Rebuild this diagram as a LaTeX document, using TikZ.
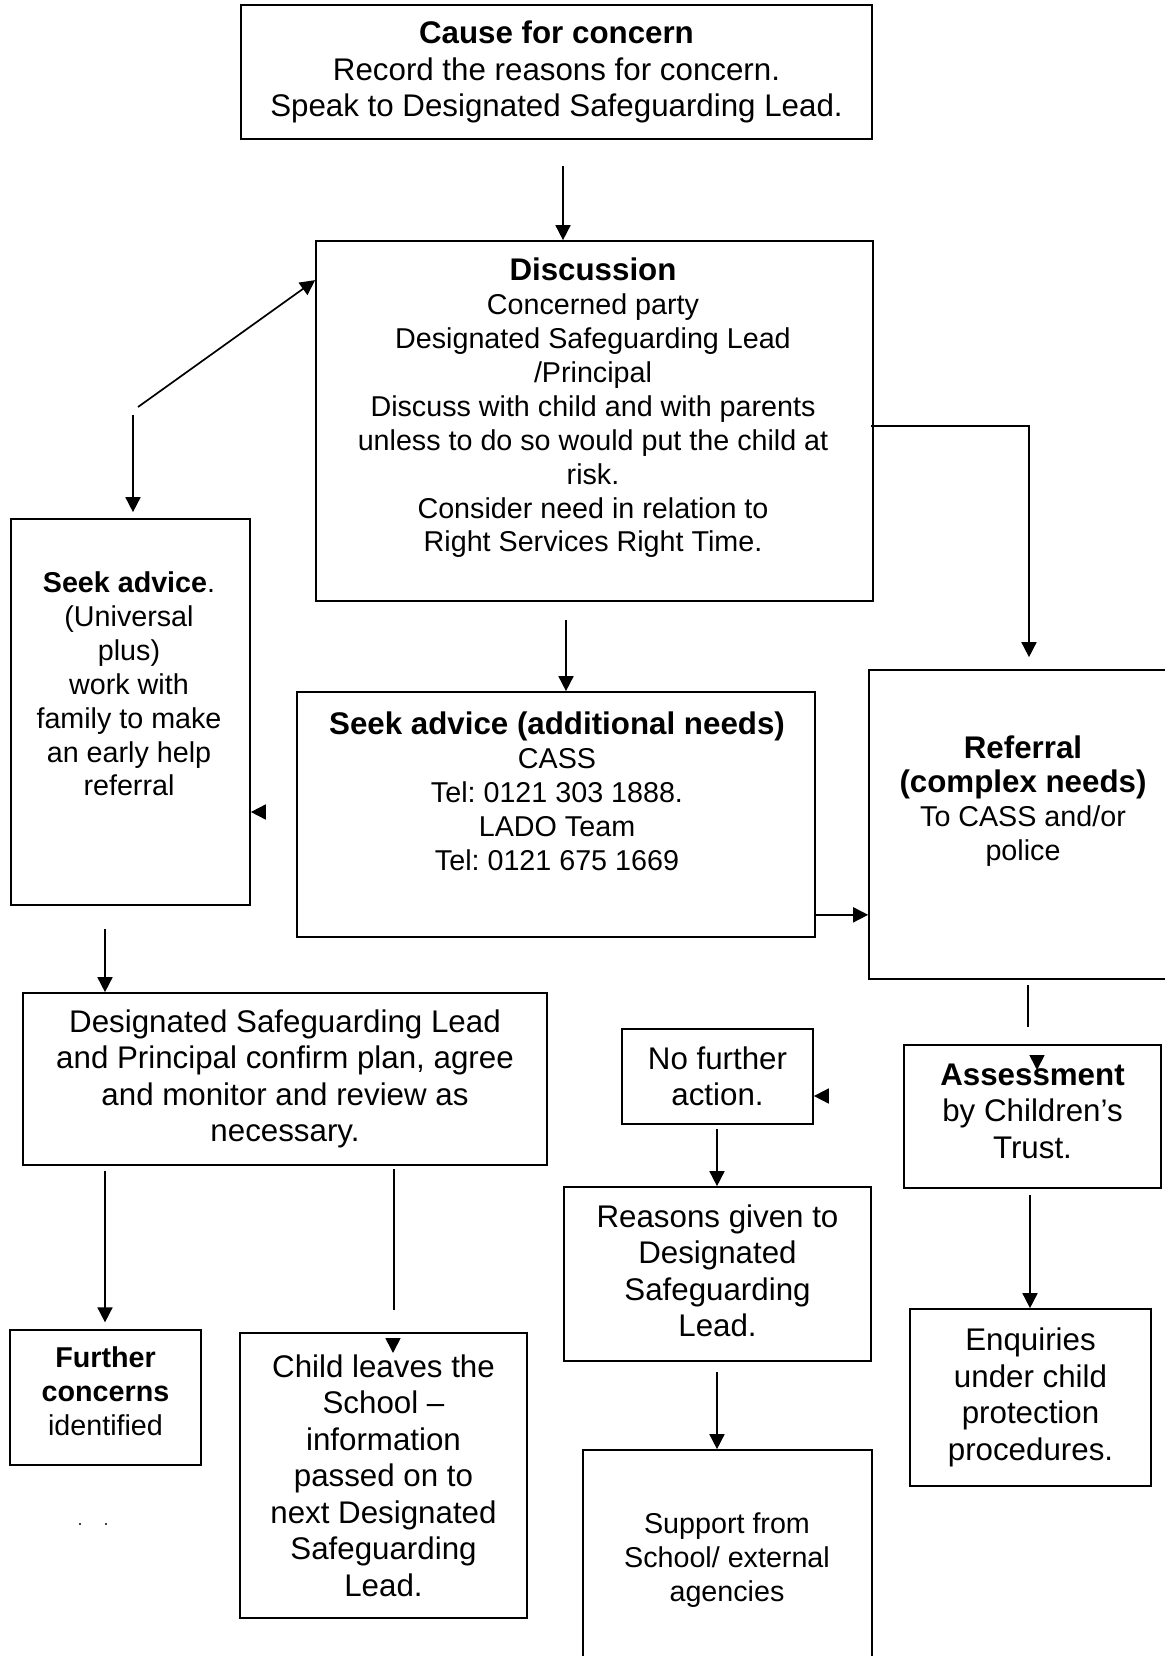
\documentclass[tikz,border=0pt]{standalone}
\usepackage{fontspec}
\setmainfont{Liberation Sans}
\usepackage{tikz}
\usetikzlibrary{arrows.meta}
\usetikzlibrary{calc}
\frenchspacing
\newcommand{\pxu}{0.3834pt}
\newcommand{\boxhead}[1]{{\fontsize{12}{14}\selectfont\bfseries #1}}
\tikzset{%
  flowbox/.style={
    draw,
    rectangle,
    line width=0.65pt,
    inner sep=0pt,
    align=center,
    font=\fontsize{12}{14}\selectfont
  },
  boxtext/.style={
    inner sep=0pt,
    align=center,
    font=\fontsize{12}{14}\selectfont
  },
  smalltext/.style={
    inner sep=0pt,
    align=center,
    font=\fontsize{11}{13}\selectfont
  },
  arrow/.style={
    -{Triangle[length=5.75pt,width=5.75pt]},
    line width=0.65pt
  },
}

\begin{document}
\begin{tikzpicture}[x=\pxu,y=-\pxu]
  \useasboundingbox (0,0) rectangle (1165,1656);

  \node (cause) [flowbox, minimum width=631*\pxu, minimum height=134*\pxu] at (556.5,72)
  {\textbf{Cause for concern}\\Record the reasons for concern.\\Speak to Designated Safeguarding Lead.};

  \node (disc) [flowbox, minimum width=557*\pxu, minimum height=360*\pxu] at (594.5,421) {};
  \node (discText) [smalltext] at (593,408)
  {\boxhead{Discussion}\\Concerned party\\Designated Safeguarding Lead\\/Principal\\Discuss with child and with parents\\unless to do so would put the child at\\risk.\\Consider need in relation to\\Right Services Right Time.};

  \node (advL) [flowbox, minimum width=239*\pxu, minimum height=386*\pxu] at (130.5,712) {};
  \node (advLText) [smalltext] at (129,684)
  {\textbf{Seek advice}.\\(Universal\\plus)\\work with\\family to make\\an early help\\referral};

  \node (advA) [flowbox, minimum width=518*\pxu, minimum height=245*\pxu] at (556,814.5) {};
  \node (advAText) [smalltext] at (557,791)
  {\boxhead{Seek advice (additional needs)}\\CASS\\Tel: 0121 303 1888.\\LADO Team\\Tel: 0121 675 1669};

  \node (refer) [flowbox, minimum width=320*\pxu, minimum height=309*\pxu] at (1029,824.5) {};
  \node (referText) [smalltext] at (1023,801)
  {\boxhead{Referral}\\\boxhead{(complex needs)}\\To CASS and/or\\police};

  \node (plan) [flowbox, minimum width=524*\pxu, minimum height=172*\pxu] at (285,1079)
  {Designated Safeguarding Lead\\and Principal confirm plan, agree\\and monitor and review as\\necessary.};

  \node (nfa) [flowbox, minimum width=191*\pxu, minimum height=95*\pxu] at (717.5,1076.5)
  {No further\\action.};

  \node (assess) [flowbox, minimum width=257*\pxu, minimum height=143*\pxu] at (1032.5,1116.5) {};
  \node (assessText) [boxtext] at (1032.5,1111)
  {\textbf{Assessment}\\by Children’s\\Trust.};

  \node (reasons) [flowbox, minimum width=307*\pxu, minimum height=174*\pxu] at (717.5,1274) {};
  \node (reasonsText) [boxtext] at (717.5,1271)
  {Reasons given to\\Designated\\Safeguarding\\Lead.};

  \node (support) [flowbox, minimum width=289*\pxu, minimum height=250*\pxu] at (727.5,1575) {};
  \node (supportText) [smalltext] at (727,1560)
  {Support from\\School/ external\\agencies};

  \node (enq) [flowbox, minimum width=241*\pxu, minimum height=177*\pxu] at (1030.5,1397.5)
  {Enquiries\\under child\\protection\\procedures.};

  \node (further) [flowbox, minimum width=191*\pxu, minimum height=135*\pxu] at (105.5,1397.5) {};
  \node (furtherText) [smalltext] at (105.5,1391.5)
  {\textbf{Further}\\\textbf{concerns}\\identified};

  \node (child) [flowbox, minimum width=287*\pxu, minimum height=285*\pxu] at (383.5,1475.5)
  {Child leaves the\\School –\\information\\passed on to\\next Designated\\Safeguarding\\Lead.};

  % connectors
  \coordinate (a1) at (563,166);
  \draw [arrow] (a1) -- (a1 |- disc.north);

  \coordinate (d1) at (138,407);
  \draw [arrow] (d1) -- ($(disc.north west)+(0,40)$);

  \coordinate (c1) at (133,415);
  \draw [arrow, shorten >=2.3pt] (c1) -- (c1 |- advL.north);
  \coordinate (c2) at (265,812);
  \draw [arrow] (c2) -- (c2 -| advL.east);

  \coordinate (b1) at (566,620);
  \draw [arrow] (b1) -- (b1 |- advA.north);

  \draw [arrow, shorten >=4.6pt] ($(disc.north east)+(-3,186)$) -| (refer.north);

  \coordinate (de) at ($(advA.south east)+(0,-23)$);
  \draw [arrow] (de) -- (de -| refer.west);

  \coordinate (e1) at (1028,985);
  \coordinate (e2) at (1028,1027);
  \draw [line width=0.65pt] (e1) -- (e2);
  \coordinate (e3) at (1037,1055);
  \coordinate (e4) at (1037,1070);
  \draw [arrow] (e3) -- (e4);

  \coordinate (h1) at (1030,1195);
  \draw [arrow] (h1) -- (h1 |- enq.north);

  \coordinate (g1) at (828,1096);
  \draw [arrow] (g1) -- (g1 -| nfa.east);

  \coordinate (n1) at (717,1129);
  \draw [arrow] (n1) -- (n1 |- reasons.north);

  \coordinate (r1) at (717,1372);
  \draw [arrow] (r1) -- (r1 |- support.north);

  \coordinate (l1) at (105,929);
  \draw [arrow] (l1) -- (l1 |- plan.north);

  \coordinate (p1) at (105,1171);
  \draw [arrow, shorten >=2.6pt] (p1) -- (p1 |- further.north);

  \coordinate (p2) at (394,1169);
  \coordinate (p3) at (394,1310);
  \draw [line width=0.65pt] (p2) -- (p3);
  \coordinate (m1) at (393,1338);
  \coordinate (m2) at (393,1353);
  \draw [arrow] (m1) -- (m2);

  % stray dots
  \fill (80,1524) circle (0.4pt);
  \fill (106,1524) circle (0.4pt);
\end{tikzpicture}
\end{document}
